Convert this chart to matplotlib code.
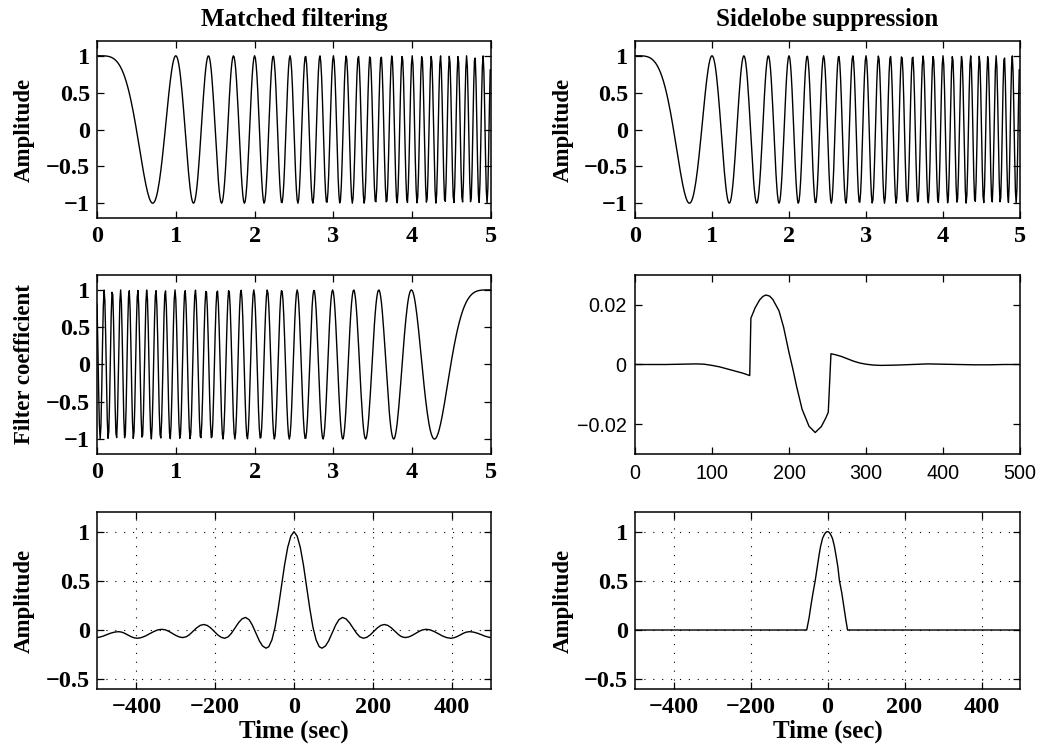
import numpy as np
import matplotlib
matplotlib.use("Agg")
import matplotlib.pyplot as plt

# ---------------- data ----------------
# chirp parameters (top panels / filter coefficients)
chirp_duration = 5.0          # seconds
chirp_samples = 500
chirp_rate = 2.0              # cycles/sec^2  -> phase = pi*rate*t^2

# matched-filter output (one side, symmetric about lag 0)
mf_lags_pos = [0, 8, 16, 24, 32, 40, 48, 56, 64, 71, 80, 88, 97, 106, 114, 123,
               132, 141, 150, 159, 167, 176, 185, 194, 203, 212, 220, 229, 238,
               247, 256, 265, 273, 282, 291, 300, 309, 318, 326, 335, 345, 356,
               366, 377, 388, 398, 406, 414, 422, 430, 437, 445, 455, 465, 475,
               485, 495, 500]
mf_vals_pos = [1.00, 0.955, 0.84, 0.66, 0.44, 0.22, 0.03, -0.10, -0.17, -0.185,
               -0.162, -0.110, -0.029, 0.052, 0.105, 0.128, 0.113, 0.073, 0.019,
               -0.034, -0.069, -0.084, -0.074, -0.048, -0.012, 0.023, 0.046,
               0.056, 0.047, 0.022, -0.012, -0.046, -0.068, -0.077, -0.071,
               -0.055, -0.034, -0.013, 0.001, 0.007, 0.002, -0.016, -0.037,
               -0.061, -0.078, -0.084, -0.079, -0.067, -0.050, -0.033, -0.022,
               -0.017, -0.021, -0.032, -0.047, -0.063, -0.074, -0.077]

# sidelobe-suppression filter coefficients
ss_index = [0, 20, 40, 60, 80, 90, 100, 110, 120, 130, 140, 149, 150.5, 156, 162,
            166, 170, 175, 179, 187, 193, 200, 205, 210, 217, 226, 234, 242, 248, 251,
            254.5, 260, 268, 276, 284, 292, 300, 310, 320, 340, 360, 380, 400,
            420, 440, 460, 480, 499]
ss_coef = [0, 0, 0, 0.0001, 0.0002, 0.0001, -0.0003, -0.0008, -0.0015, -0.0022,
           -0.0029, -0.0037, 0.0155, 0.0190, 0.0217, 0.0228, 0.0233, 0.0229,
           0.0218, 0.0180, 0.0125, 0.0040, -0.0015, -0.0075, -0.0150, -0.0207,
           -0.0228, -0.0208, -0.0178, -0.0160, 0.0036, 0.0033, 0.0027, 0.0019,
           0.0011, 0.0005, 0.0001, -0.0002, -0.0003, -0.0002, 0.0000, 0.0002,
           0.0001, 0.0000, -0.0001, -0.0001, 0.0000, 0.0000]

# sidelobe-suppressed output
sp_lags = [-500, -54, -48, -43, -38, -32, -27, -22, -18, -13, -9, -6, -3, 0,
           3, 6, 9, 13, 18, 22, 27, 31, 37, 42, 47, 52, 500]
sp_vals = [0, 0, 0.12, 0.25, 0.37, 0.50, 0.63, 0.76, 0.85, 0.93, 0.965, 0.985,
           0.997, 1.0, 0.997, 0.985, 0.965, 0.93, 0.85, 0.76, 0.64, 0.50, 0.38,
           0.25, 0.12, 0, 0]

titles = ["Matched filtering", "Sidelobe suppression"]
amp_ticks = [-1, -0.5, 0, 0.5, 1]
amp_labels = ["\u22121", "\u22120.5", "0", "0.5", "1"]
time_ticks = [0, 1, 2, 3, 4, 5]
lag_ticks = [-400, -200, 0, 200, 400]
lag_labels = ["\u2212400", "\u2212200", "0", "200", "400"]
out_yticks = [-0.5, 0, 0.5, 1]
out_ylabels = ["\u22120.5", "0", "0.5", "1"]
ss_xticks = [0, 100, 200, 300, 400, 500]
ss_yticks = [-0.02, 0, 0.02]
ss_ylabels = ["\u22120.02", "0", "0.02"]

# ---------------- derived signals ----------------
t = np.arange(chirp_samples) * chirp_duration / chirp_samples
chirp = np.cos(np.pi * chirp_rate * t ** 2)
filt = chirp[::-1]
mf_lags = np.concatenate([-np.array(mf_lags_pos[::-1]), np.array(mf_lags_pos[1:])])
mf_vals = np.concatenate([np.array(mf_vals_pos[::-1]), np.array(mf_vals_pos[1:])])

# ---------------- figure ----------------
W, H = 1057, 746
fig = plt.figure(figsize=(W / 100, H / 100), dpi=100)

serif = dict(family="Liberation Serif", weight="bold")
TICKFS = 17.5
TITLEFS = 18
YLABFS = 16.5
XLABFS = 18

def px_axes(left, top, right, bottom):
    return fig.add_axes([left / W, 1 - bottom / H, (right - left) / W, (bottom - top) / H])

def style(ax, sans=False):
    ax.tick_params(direction="in", top=True, right=True, length=5, width=0.9)
    ax.tick_params(axis="x", pad=6 if not sans else 7)
    ax.tick_params(axis="y", pad=5 if not sans else 6)
    for s in ax.spines.values():
        s.set_linewidth(1.1)
    for lab in ax.get_xticklabels() + ax.get_yticklabels():
        if sans:
            lab.set_family("Liberation Sans")
            lab.set_fontsize(14.2)
        else:
            lab.set_family("Liberation Serif")
            lab.set_fontweight("bold")
            lab.set_fontsize(TICKFS)

def ylab(ax, text, x):
    ax.set_ylabel(text, fontsize=YLABFS, **serif)
    ax.yaxis.set_label_coords(x, 0.5)

LX, LR = 97, 491
RX, RR = 635, 1020
rows = [(41, 218), (275, 454), (512, 689)]
YL_LEFT = -0.158
YL_RIGHT = -0.16

lw = 1.0

# Row 1
for i, (l, r) in enumerate([(LX, LR), (RX, RR)]):
    ax = px_axes(l, rows[0][0], r, rows[0][1])
    ax.plot(t, chirp, color="black", lw=lw)
    ax.set_xlim(0, 5)
    ax.set_ylim(-1.2, 1.2)
    ax.set_xticks(time_ticks)
    ax.set_yticks(amp_ticks)
    ax.set_yticklabels(amp_labels)
    style(ax)
    ax.set_title(titles[i], fontsize=TITLEFS, pad=11, **serif)
    ylab(ax, "Amplitude", YL_LEFT if i == 0 else YL_RIGHT)

# Row 2 left: filter coefficients
ax = px_axes(LX, rows[1][0], LR, rows[1][1])
ax.plot(t, filt, color="black", lw=lw)
ax.set_xlim(0, 5)
ax.set_ylim(-1.2, 1.2)
ax.set_xticks(time_ticks)
ax.set_yticks(amp_ticks)
ax.set_yticklabels(amp_labels)
style(ax)
ylab(ax, "Filter coefficient", YL_LEFT)

# Row 2 right: sidelobe suppression filter
ax = px_axes(RX, rows[1][0], RR, rows[1][1])
ax.plot(ss_index, ss_coef, color="black", lw=lw)
ax.set_xlim(0, 500)
ax.set_ylim(-0.03, 0.03)
ax.set_xticks(ss_xticks)
ax.set_yticks(ss_yticks)
ax.set_yticklabels(ss_ylabels)
style(ax, sans=True)

# Row 3
for i, ((l, r), (xs, ys)) in enumerate(zip([(LX, LR), (RX, RR)],
                                           [(mf_lags, mf_vals), (sp_lags, sp_vals)])):
    ax = px_axes(l, rows[2][0], r, rows[2][1])
    ax.plot(xs, ys, color="black", lw=lw, zorder=3)
    ax.set_xlim(-500, 500)
    ax.set_ylim(-0.6, 1.2)
    ax.set_xticks(lag_ticks)
    ax.set_xticklabels(lag_labels)
    ax.set_yticks(out_yticks)
    ax.set_yticklabels(out_ylabels)
    ax.grid(True, color="black", linestyle=(0, (1, 7)), linewidth=0.8)
    style(ax)
    ylab(ax, "Amplitude", YL_LEFT if i == 0 else YL_RIGHT)
    ax.set_xlabel("Time (sec)", fontsize=XLABFS, **serif)
    ax.xaxis.set_label_coords(0.5, -0.175)

fig.savefig("out.png", dpi=100)
